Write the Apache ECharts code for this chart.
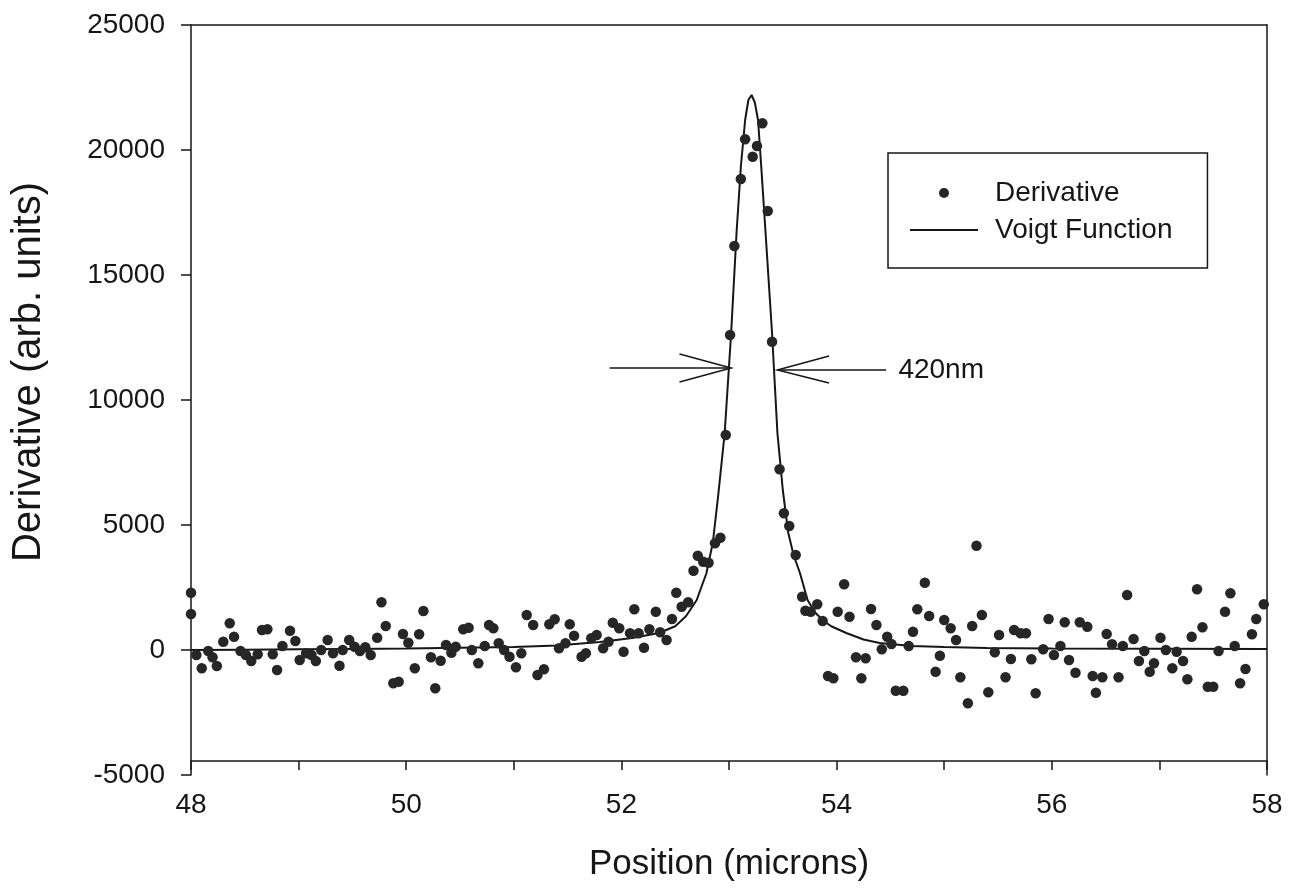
<!DOCTYPE html>
<html><head><meta charset="utf-8">
<script src="https://cdn.jsdelivr.net/npm/echarts@6/dist/echarts.min.js"></script>
<style>html,body{margin:0;padding:0;background:#fff}#c{width:1289px;height:891px}</style>
</head><body><div id="c"></div>
<script>
// Measured data points (Derivative)
const DERIV_X = [48.00,48.00,48.05,48.10,48.16,48.20,48.24,48.30,48.36,48.40,48.46,48.51,48.56,48.62,48.66,48.71,48.76,48.80,48.85,48.92,48.97,49.01,49.07,49.12,49.16,49.21,49.27,49.32,49.38,49.41,49.47,49.52,49.57,49.62,49.67,49.73,49.77,49.81,49.88,49.93,49.97,50.02,50.08,50.12,50.16,50.23,50.27,50.32,50.37,50.42,50.46,50.53,50.58,50.61,50.67,50.73,50.77,50.81,50.86,50.91,50.96,51.02,51.07,51.12,51.18,51.22,51.28,51.33,51.38,51.42,51.48,51.52,51.56,51.63,51.67,51.72,51.77,51.83,51.88,51.92,51.98,52.02,52.08,52.12,52.16,52.21,52.26,52.32,52.36,52.42,52.47,52.51,52.56,52.62,52.67,52.71,52.76,52.81,52.87,52.92,52.97,53.01,53.05,53.11,53.15,53.22,53.26,53.31,53.36,53.40,53.47,53.51,53.56,53.62,53.68,53.71,53.76,53.82,53.87,53.92,53.97,54.01,54.07,54.12,54.18,54.23,54.27,54.32,54.37,54.42,54.47,54.51,54.55,54.62,54.67,54.71,54.75,54.82,54.86,54.92,54.96,55.00,55.06,55.11,55.15,55.22,55.26,55.30,55.35,55.41,55.47,55.51,55.57,55.62,55.65,55.71,55.76,55.81,55.85,55.92,55.97,56.02,56.08,56.12,56.16,56.22,56.26,56.33,56.38,56.41,56.47,56.51,56.56,56.62,56.66,56.70,56.76,56.81,56.86,56.91,56.95,57.01,57.06,57.12,57.16,57.22,57.26,57.30,57.35,57.40,57.45,57.50,57.55,57.61,57.66,57.70,57.75,57.80,57.86,57.90,57.97];
const DERIV_Y = [2290,1440,-200,-730,-40,-290,-640,330,1070,530,-40,-200,-440,-170,800,830,-170,-800,160,770,360,-400,-130,-200,-440,0,400,-130,-630,0,400,130,-40,110,-200,490,1910,960,-1330,-1270,640,290,-730,630,1560,-290,-1530,-430,200,-110,130,830,890,0,-530,160,1000,870,270,0,-270,-690,-130,1400,1000,-1000,-770,1030,1230,70,270,1030,570,-270,-130,470,600,70,330,1090,870,-70,670,1630,670,90,830,1530,710,400,1240,2290,1730,1910,3170,3770,3530,3490,4270,4490,8600,12600,16160,18840,20430,19730,20160,21070,17560,12330,7230,5470,4960,3800,2130,1570,1530,1830,1160,-1040,-1130,1530,2630,1330,-290,-1130,-330,1640,1000,30,530,240,-1630,-1630,160,730,1630,2690,1360,-870,-230,1200,870,400,-1090,-2130,960,4170,1400,-1690,-90,600,-1090,-360,800,670,670,-370,-1730,30,1240,-200,160,1110,-400,-910,1110,930,-1040,-1710,-1090,640,230,-1090,160,2200,440,-440,-40,-870,-530,490,0,-730,-70,-440,-1170,530,2430,910,-1470,-1470,-40,1530,2270,160,-1330,-760,630,1240,1830];

// Fitted curve (Voigt Function)
const VOIGT_X = [48.0,48.5,49.0,49.5,50.0,50.5,51.0,51.4,51.8,52.1,52.35,52.5,52.6,52.7,52.79,52.85,52.90,52.96,53.02,53.07,53.11,53.15,53.18,53.21,53.24,53.27,53.30,53.34,53.40,53.45,53.50,53.55,53.60,53.66,53.73,53.80,53.87,53.95,54.09,54.25,54.40,54.70,55.0,55.4,56.0,57.0,58.0];
const VOIGT_Y = [0,15,30,45,60,90,120,180,320,480,680,950,1350,2000,3070,4300,6200,8680,12680,16680,19320,21200,22000,22200,21900,21200,19320,16680,12680,8680,6400,4700,3800,3070,2000,1500,1200,950,680,420,280,160,120,80,60,50,40];

// Axis ticks
const X_MIN = 48, X_MAX = 58, X_STEP = 1;
const Y_MIN = -5000, Y_MAX = 25000, Y_STEP = 5000;

// FWHM annotation (data coordinates)
const ARROW_LEFT_SHAFT = [[51.89, 11280], [53.02, 11280]];
const ARROW_LEFT_HEAD = [[52.54, 11840], [53.02, 11280], [52.54, 10720]];
const ARROW_RIGHT_SHAFT = [[54.46, 11200], [53.45, 11200]];
const ARROW_RIGHT_HEAD = [[53.93, 11760], [53.45, 11200], [53.93, 10680]];
const FWHM_LABEL_POS = [54.50, 11200];
const FWHM_LABEL = '420nm';

const FONT = "'Liberation Sans', Arial, Helvetica, sans-serif";
const INK = '#161616';

const chart = echarts.init(document.getElementById('c'), null, {renderer: 'canvas'});
const hideAxis = {axisTick: {show: false}, axisLabel: {show: false}, splitLine: {show: false}};

chart.setOption({
  backgroundColor: '#ffffff',
  animation: false,
  textStyle: {fontFamily: FONT, color: INK},
  grid: {left: 191, right: 22, top: 25, bottom: 116, containLabel: false},
  legend: {
    data: [
      {name: 'Derivative', icon: 'circle'},
      {name: 'Voigt Function', icon: 'path://M0,0 H68 V1.8 H0 Z'}
    ],
    orient: 'vertical', left: 888, top: 153,
    borderColor: INK, borderWidth: 1.5,
    padding: [26, 35, 24, 22],
    itemWidth: 68, itemHeight: 10, itemGap: 9,
    textStyle: {fontSize: 28, color: INK, fontFamily: FONT, padding: [0, 0, 0, 12]}
  },
  xAxis: [
    {type: 'value', min: X_MIN, max: X_MAX, interval: X_STEP, position: 'bottom', offset: -14,
     axisLine: {show: true, onZero: false, lineStyle: {color: INK, width: 1.5}},
     axisTick: {show: true, inside: false, length: 9, lineStyle: {color: INK, width: 1.5}},
     axisLabel: {fontSize: 28, color: INK, fontFamily: FONT, margin: 30,
       formatter: v => (Math.round(v) % 2 === 0 ? String(v) : '')},
     splitLine: {show: false},
     name: 'Position (microns)', nameLocation: 'middle', nameGap: 86,
     nameTextStyle: {fontSize: 35, color: INK, fontFamily: FONT}},
    {type: 'value', min: X_MIN, max: X_MAX, position: 'top',
     axisLine: {show: true, onZero: false, lineStyle: {color: INK, width: 1.5}}, ...hideAxis}
  ],
  yAxis: [
    {type: 'value', min: Y_MIN, max: Y_MAX, interval: Y_STEP, position: 'left',
     axisLine: {show: true, onZero: false, lineStyle: {color: INK, width: 1.5}},
     axisTick: {show: true, inside: false, length: 10, lineStyle: {color: INK, width: 1.5}},
     axisLabel: {fontSize: 28, color: INK, fontFamily: FONT, margin: 26, formatter: v => String(v)},
     splitLine: {show: false},
     name: 'Derivative (arb. units)', nameLocation: 'middle', nameGap: 142, nameRotate: 90,
     nameTextStyle: {fontSize: 40, color: INK, fontFamily: FONT, padding: [0, 0, 0, 56]}},
    {type: 'value', min: Y_MIN, max: Y_MAX, position: 'right',
     axisLine: {show: true, onZero: false, lineStyle: {color: INK, width: 1.5}}, ...hideAxis}
  ],
  series: [
    {name: 'Voigt Function', type: 'line', xAxisIndex: 0, yAxisIndex: 0,
     data: VOIGT_X.map((x, i) => [x, VOIGT_Y[i]]),
     symbol: 'none', smooth: false, z: 2,
     lineStyle: {color: INK, width: 2}, itemStyle: {color: INK}},
    {name: 'Derivative', type: 'scatter', xAxisIndex: 0, yAxisIndex: 0,
     data: DERIV_X.map((x, i) => [x, DERIV_Y[i]]),
     symbol: 'circle', symbolSize: 10.5, z: 3,
     itemStyle: {color: '#262626', opacity: 1}},
    {name: 'fwhm', type: 'lines', coordinateSystem: 'cartesian2d', polyline: true, z: 4,
     lineStyle: {color: INK, width: 1.5, opacity: 1},
     data: [ARROW_LEFT_SHAFT, ARROW_LEFT_HEAD, ARROW_RIGHT_SHAFT, ARROW_RIGHT_HEAD].map(c => ({coords: c}))},
    {name: 'fwhmLabel', type: 'scatter', data: [FWHM_LABEL_POS], symbolSize: 0, z: 4,
     itemStyle: {opacity: 1},
     label: {show: true, position: 'right', distance: 8, formatter: FWHM_LABEL,
       fontSize: 28, color: INK, fontFamily: FONT, opacity: 1}}
  ]
});
</script>
</body></html>
